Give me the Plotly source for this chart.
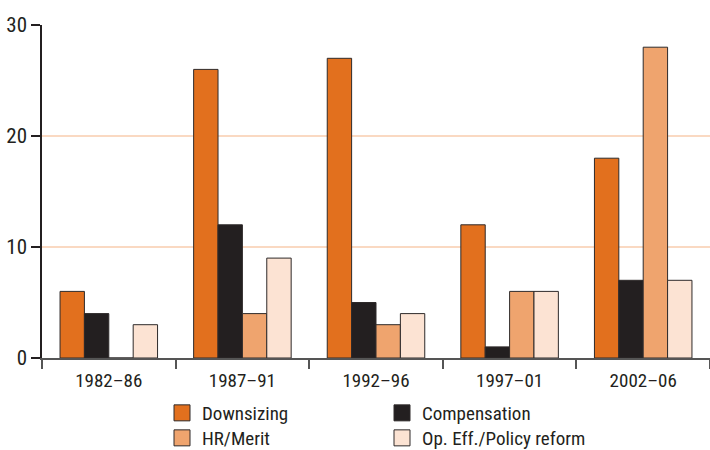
import plotly.graph_objects as go

categories = ["1982–86", "1987–91", "1992–96", "1997–01", "2002–06"]
downsizing = [6, 26, 27, 12, 18]
compensation = [4, 12, 5, 1, 7]
hr_merit = [0, 4, 3, 6, 28]
op_eff = [3, 9, 4, 6, 7]
y_ticks = [0, 10, 20, 30]

FONT = "Liberation Sans Narrow, Roboto Condensed, Arial Narrow, sans-serif"
OUTLINE = "#2e2a2a"
series = [
    ("Downsizing", downsizing, "#e2701e", "legend", 162, 413),
    ("Compensation", compensation, "#231f20", "legend2", 382, 413),
    ("HR/Merit", hr_merit, "#efa46e", "legend3", 162, 438),
    ("Op. Eff./Policy reform", op_eff, "#fce3d3", "legend4", 382, 438),
]

fig = go.Figure()
for name, vals, col, leg, lx, ly in series:
    fig.add_trace(go.Bar(
        x=categories, y=vals, name=name, showlegend=False,
        marker=dict(color=col, line=dict(color=OUTLINE, width=1)),
    ))
# legend swatches
legends = {}
for name, vals, col, leg, lx, ly in series:
    fig.add_trace(go.Scatter(
        x=[None], y=[None], mode="markers", name=name, legend=leg,
        marker=dict(symbol="square", size=16, color=col,
                    line=dict(color=OUTLINE, width=1)),
    ))
    legends[leg] = dict(x=lx / 710, y=1 - ly / 450, xref="container", yref="container",
                        xanchor="left", yanchor="middle",
                        font=dict(size=19), bgcolor="rgba(0,0,0,0)",
                        itemsizing="trace")

fig.update_layout(
    width=710, height=450,
    margin=dict(l=42, r=0, t=25, b=92, autoexpand=False),
    paper_bgcolor="white", plot_bgcolor="white",
    barmode="group", bargap=0.27, bargroupgap=0,
    font=dict(family=FONT, size=19, color="#231f20"),
    showlegend=True,
    **legends,
)
fig.update_xaxes(
    type="category", tickson="boundaries", ticks="outside", ticklen=9,
    tickcolor="#555", tickwidth=1.5, ticklabelstandoff=4,
    showline=True, linecolor="#555", linewidth=1.5,
    showgrid=False, tickfont=dict(size=19),
)
fig.update_yaxes(
    range=[0, 30], tickvals=y_ticks, ticks="outside", ticklen=9,
    tickcolor="#231f20", tickwidth=1.5,
    showline=True, linecolor="#231f20", linewidth=1.5,
    showgrid=True, gridcolor="#fad9c2", gridwidth=1.5,
    zeroline=False, tickfont=dict(size=21),
)

fig.write_html("out.html")
